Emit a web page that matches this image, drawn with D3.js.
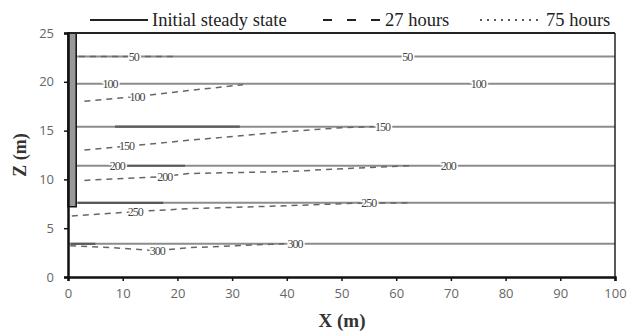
<!DOCTYPE html>
<html>
<head>
<meta charset="utf-8">
<script src="https://d3js.org/d3.v7.min.js"></script>
<style>
  body { margin: 0; background: #fff; }
  svg { display: block; }
</style>
</head>
<body>
<script>
// contour levels and the depth of each steady-state line
const levels = [50, 100, 150, 200, 250, 300];
const steadyZ = [22.6, 19.8, 15.4, 11.4, 7.6, 3.4];
// where the labels sit on the steady-state lines
const steadyLabels = [
  { v: 50, x: 62 }, { v: 100, x: 7.7 }, { v: 100, x: 75 },
  { v: 150, x: 57.5 }, { v: 200, x: 9 }, { v: 200, x: 69.5 }, { v: 300, x: 41.5 }
];

// 27 hours lines [x, z]
const hours27 = [
  [[2, 22.6], [20, 22.6]],
  [[3, 18.0], [12.6, 18.5], [22, 19.1], [32, 19.7]],
  [[3, 13.0], [10.7, 13.4], [22, 14.0], [40, 14.9], [50, 15.3], [56, 15.4]],
  [[3, 9.9], [17.7, 10.3], [22, 10.6], [40, 10.8], [52, 11.15], [62.5, 11.4]],
  [[0.7, 6.25], [12.3, 6.7], [22, 7.0], [40, 7.3], [52, 7.55], [62.5, 7.6]],
  [[0.4, 3.2], [8, 3.0], [16.3, 2.7], [22, 3.0], [37, 3.35], [39.5, 3.4]]
];
const hours27Labels = [
  { v: 50, x: 12, z: 22.6 }, { v: 100, x: 12.6, z: 18.5 }, { v: 150, x: 10.7, z: 13.4 },
  { v: 200, x: 17.7, z: 10.3 }, { v: 250, x: 12.3, z: 6.7 }, { v: 250, x: 55, z: 7.6 },
  { v: 300, x: 16.3, z: 2.7 }
];

// 75 hours lines, lying on top of the steady-state lines [x0, x1]
const hours75 = [null, null, [8.6, 31.4], [7.7, 21.4], [1.8, 17.4], [0.5, 5]];

// the well screen
const wellX = [0, 1.5];
const wellZ = [7.2, 25];

const xTicks = [0, 10, 20, 30, 40, 50, 60, 70, 80, 90, 100];
const yTicks = [0, 5, 10, 15, 20, 25];

const width = 641, height = 333;
const margin = { top: 33, right: 26, bottom: 56, left: 68 };

const svg = d3.select("body").append("svg")
    .attr("width", width)
    .attr("height", height);

const x = d3.scaleLinear().domain([0, 100]).range([margin.left, width - margin.right]);
const y = d3.scaleLinear().domain([0, 25]).range([height - margin.bottom, margin.top]);

const line = d3.line().x(d => x(d[0])).y(d => y(d[1]));

// steady state lines
svg.append("g")
  .selectAll("line")
  .data(steadyZ)
  .join("line")
    .attr("x1", x(0)).attr("x2", x(100))
    .attr("y1", d => y(d)).attr("y2", d => y(d))
    .attr("stroke", "#8c8c8c")
    .attr("stroke-width", 2);

// 75 hour lines (they sit on the steady lines, so they just look darker)
svg.append("g")
  .selectAll("line")
  .data(hours75.map((d, i) => d ? { x0: d[0], x1: d[1], z: steadyZ[i] } : null).filter(d => d))
  .join("line")
    .attr("x1", d => x(d.x0)).attr("x2", d => x(d.x1))
    .attr("y1", d => y(d.z)).attr("y2", d => y(d.z))
    .attr("stroke", "#5a5a5a")
    .attr("stroke-width", 2.2);

// 27 hour lines
svg.append("g")
  .selectAll("path")
  .data(hours27)
  .join("path")
    .attr("d", line)
    .attr("fill", "none")
    .attr("stroke", "#666")
    .attr("stroke-width", 1.5)
    .attr("stroke-dasharray", "6,5");

// contour labels
const labels = steadyLabels.map(d => ({ v: d.v, x: d.x, z: steadyZ[levels.indexOf(d.v)] }))
  .concat(hours27Labels);

svg.append("g")
  .selectAll("text")
  .data(labels)
  .join("text")
    .attr("x", d => x(d.x))
    .attr("y", d => y(d.z))
    .attr("dy", "0.35em")
    .attr("text-anchor", "middle")
    .attr("font-family", "Liberation Serif, serif")
    .attr("font-size", 12)
    .attr("letter-spacing", -1)
    .attr("fill", "#444")
    .attr("stroke", "#fff")
    .attr("stroke-width", 3)
    .attr("paint-order", "stroke")
    .text(d => d.v);

// well
svg.append("rect")
    .attr("x", x(wellX[0]))
    .attr("y", y(wellZ[1]))
    .attr("width", x(wellX[1]) - x(wellX[0]))
    .attr("height", y(wellZ[0]) - y(wellZ[1]))
    .attr("fill", "#999")
    .attr("stroke", "#111")
    .attr("stroke-width", 1.5);

// frame
svg.append("line")
    .attr("x1", x(0)).attr("x2", x(100)).attr("y1", y(25)).attr("y2", y(25))
    .attr("stroke", "#222").attr("stroke-width", 2);
svg.append("line")
    .attr("x1", x(100)).attr("x2", x(100)).attr("y1", y(25)).attr("y2", y(0))
    .attr("stroke", "#222").attr("stroke-width", 1.5);

// axes
const xAxis = svg.append("g")
    .attr("transform", `translate(0,${y(0)})`)
    .call(d3.axisBottom(x).tickValues(xTicks).tickSize(4).tickPadding(8));
const yAxis = svg.append("g")
    .attr("transform", `translate(${x(0)},0)`)
    .call(d3.axisLeft(y).tickValues(yTicks).tickSize(4).tickPadding(10));

[xAxis, yAxis].forEach(g => {
  g.select(".domain").attr("stroke", "#111").attr("stroke-width", 2.5);
  g.selectAll(".tick line").attr("stroke", "#111").attr("stroke-width", 1.5);
  g.selectAll(".tick text")
    .attr("fill", "#666")
    .attr("font-family", "Open Sans, sans-serif")
    .attr("font-size", 13);
});

// axis titles
svg.append("text")
    .attr("x", 342).attr("y", 327)
    .attr("text-anchor", "middle")
    .attr("font-family", "Liberation Serif, serif")
    .attr("font-size", 19)
    .attr("font-weight", "bold")
    .attr("fill", "#333")
    .text("X (m)");
svg.append("text")
    .attr("transform", "translate(26,155) rotate(-90)")
    .attr("text-anchor", "middle")
    .attr("font-family", "Liberation Serif, serif")
    .attr("font-size", 18)
    .attr("font-weight", "bold")
    .attr("fill", "#333")
    .text("Z (m)");

// legend
const legendItems = [
  { name: "Initial steady state", x0: 90, x1: 148, dash: null, w: 2 },
  { name: "27 hours", x0: 323, x1: 381, dash: "9,15", w: 2 },
  { name: "75 hours", x0: 480, x1: 542, dash: "2,5", w: 1.5 }
];
const legend = svg.append("g");
legend.selectAll("line")
  .data(legendItems)
  .join("line")
    .attr("x1", d => d.x0).attr("x2", d => d.x1)
    .attr("y1", 20).attr("y2", 20)
    .attr("stroke", "#222")
    .attr("stroke-width", d => d.w)
    .attr("stroke-dasharray", d => d.dash);
legend.selectAll("text")
  .data(legendItems)
  .join("text")
    .attr("x", d => d.x1 + 4)
    .attr("y", 26)
    .attr("font-family", "Liberation Serif, serif")
    .attr("font-size", 18.5)
    .attr("fill", "#222")
    .text(d => d.name);
</script>
</body>
</html>
